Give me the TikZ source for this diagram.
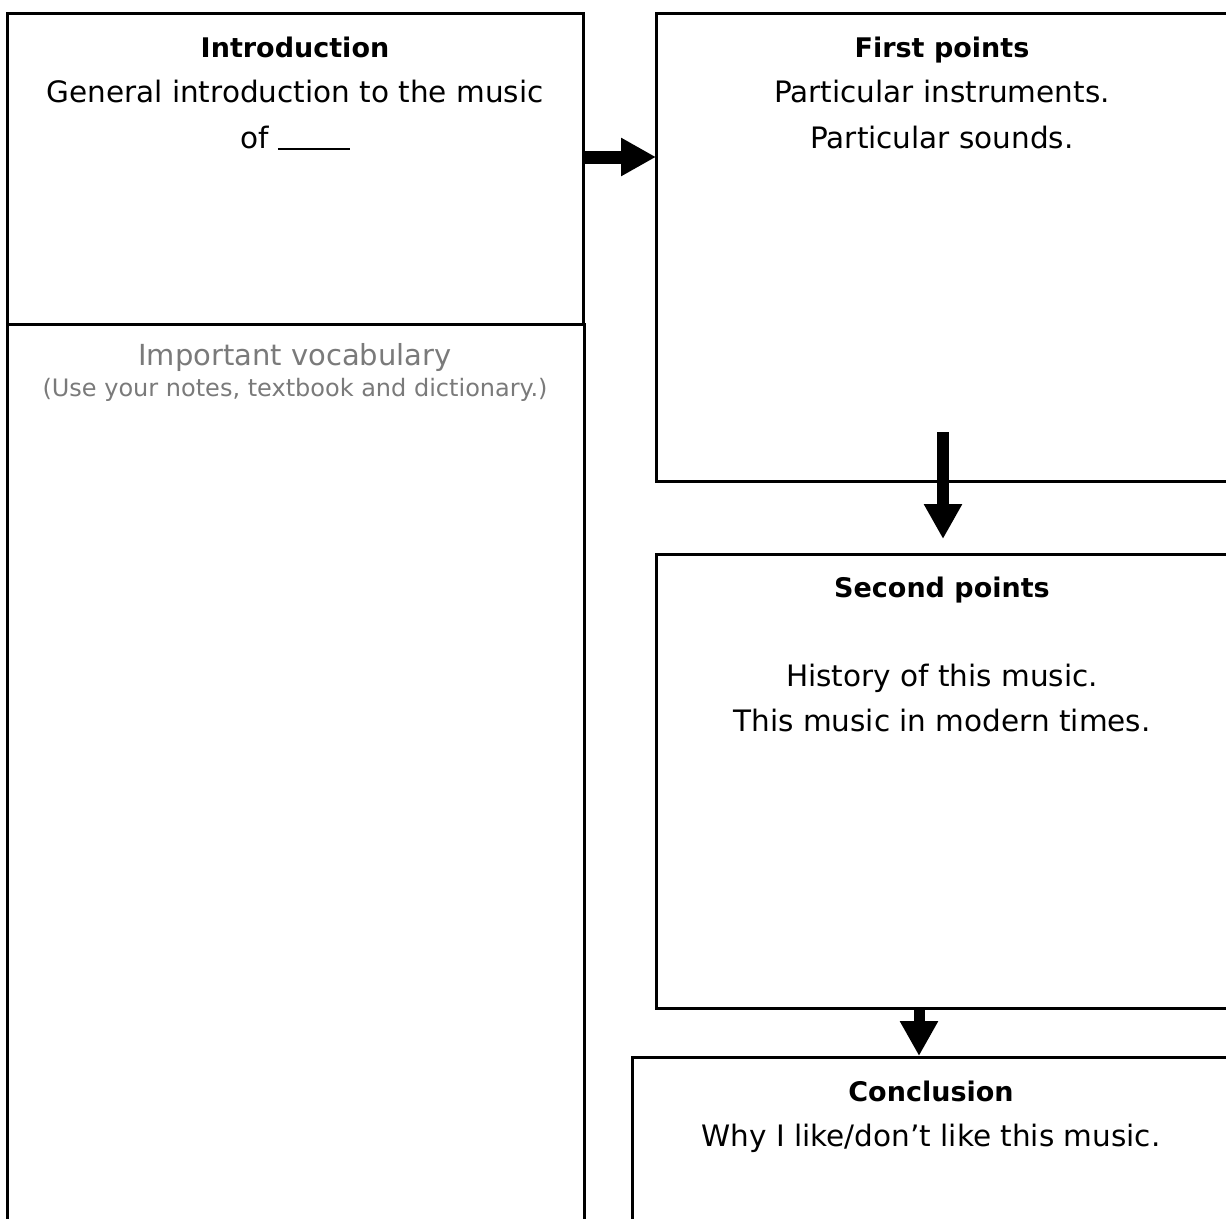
\documentclass[tikz,border=0pt]{standalone}
\usepackage{fontspec}
\setmainfont{DejaVu Sans}
\usetikzlibrary{arrows.meta}
\definecolor{vocgray}{HTML}{7A7A7A}
\tikzset{
  box/.style={draw=black, line width=2.5pt, rectangle, inner sep=0pt, anchor=north west},
  txt/.style={font=\fontsize{29.5}{34}\selectfont, inner sep=0pt, anchor=base},
  ttl/.style={font=\fontsize{27}{32}\selectfont\bfseries, inner sep=0pt, anchor=base},
  bigarrow/.style={line width=#1, -{Triangle[length=35pt,width=36pt]}},
}
\begin{document}
\begin{tikzpicture}[x=1pt,y=-1pt]
\clip (0,0) rectangle (1226,1218);
\fill[white] (0,0) rectangle (1226,1218);
% boxes
\node[box, minimum width=576pt, minimum height=311pt] (intro) at (6,12) {};
\node[box, minimum width=577pt, minimum height=920pt] (vocab) at (6,323) {};
\node[box, minimum width=600pt, minimum height=468pt] (first) at (655,12) {};
\node[box, minimum width=600pt, minimum height=454pt] (second) at (655,553) {};
\node[box, minimum width=620pt, minimum height=200pt] (concl) at (631,1056) {};
% texts
\node[ttl] (t1) at (295,57) {Introduction};
\node[txt] (t2) at (295,102) {General introduction to the music};
\node[txt] (t3) at (295,148) {of \rule[-2pt]{72pt}{1.6pt}};
\node[txt, text=vocgray, font=\fontsize{29}{34}\selectfont] (t4) at (295,365) {Important vocabulary};
\node[txt, text=vocgray, font=\fontsize{24}{28}\selectfont] (t5) at (295,396) {(Use your notes, textbook and dictionary.)};
\node[ttl] (t6) at (942,57) {First points};
\node[txt] (t7) at (942,102) {Particular instruments.};
\node[txt] (t8) at (942,148) {Particular sounds.};
\node[ttl] (t9) at (942,597) {Second points};
\node[txt] (t10) at (942,686) {History of this music.};
\node[txt] (t11) at (942,731) {This music in modern times.};
\node[ttl] (t12) at (931,1101) {Conclusion};
\node[txt] (t13) at (931,1146) {Why I like/don’t like this music.};
% arrows
\coordinate (a2s) at (943,432);
\coordinate (a2e) at (943,539);
\draw[bigarrow=13pt] (intro.east |- 0,157) -- ([xshift=1pt]first.west |- 0,157);
\draw[bigarrow=12pt] (a2s) -- (a2e);
\draw[bigarrow=11pt] (second.south -| 919,0) -- (concl.north -| 919,0);
\end{tikzpicture}
\end{document}
